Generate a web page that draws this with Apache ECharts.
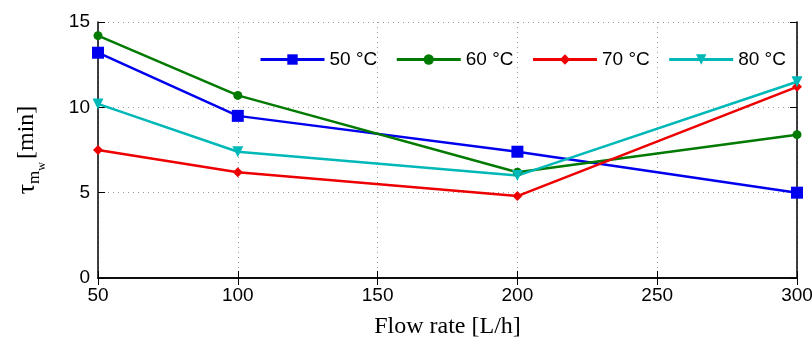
<!DOCTYPE html>
<html>
<head>
<meta charset="utf-8">
<script src="https://cdn.jsdelivr.net/npm/echarts@6/dist/echarts.min.js"></script>
<style>
  html, body { margin: 0; padding: 0; background: #fff; }
  #chart { width: 812px; height: 339px; }
</style>
</head>
<body>
<div id="chart"></div>
<script>
// flow rate [L/h]
const flowRates = [50, 100, 200, 300];
// tau_mw [min] for each temperature
const t50 = [13.2, 9.5, 7.4, 5.0];
const t60 = [14.2, 10.7, 6.2, 8.4];
const t70 = [7.5, 6.2, 4.8, 11.2];
const t80 = [10.2, 7.4, 6.0, 11.5];
const seriesNames = ['50 °C', '60 °C', '70 °C', '80 °C'];

const pairs = vals => flowRates.map((x, i) => [x, vals[i]]);

const myChart = echarts.init(document.getElementById('chart'));

const tickFont = { fontFamily: 'Liberation Sans', fontSize: 19, color: '#000' };
const dotted = { show: true, lineStyle: { color: '#999', type: [1, 4], width: 1 } };

function line(name, data, color, symbol, size) {
  return {
    name: name,
    type: 'line',
    data: pairs(data),
    symbol: symbol,
    symbolSize: size,
    showAllSymbol: true,
    color: color,
    lineStyle: { width: 2.5, color: color },
    itemStyle: { color: color },
    animation: false
  };
}

const option = {
  animation: false,
  grid: { left: 98, right: 15, top: 22, bottom: 61, outerBoundsMode: 'none', containLabel: false },
  legend: {
    top: 45,
    left: 254,
    itemWidth: 64,
    itemHeight: 13,
    itemGap: 18,
    lineStyle: { width: 3 },
    textStyle: { fontFamily: 'Liberation Sans', fontSize: 19, color: '#000' },
    data: seriesNames
  },
  xAxis: [
    {
      type: 'value',
      min: 50, max: 300, interval: 50,
      name: 'Flow rate [L/h]',
      nameLocation: 'middle',
      nameGap: 37,
      nameTextStyle: { fontFamily: 'Liberation Serif', fontSize: 24, color: '#000' },
      axisLine: { show: true, onZero: false, lineStyle: { color: '#000', width: 1.5 } },
      axisTick: { show: true, inside: true, length: 7, lineStyle: { color: '#000' } },
      axisLabel: Object.assign({ margin: 8 }, tickFont),
      splitLine: dotted
    },
    {
      type: 'value', position: 'top',
      min: 50, max: 300, interval: 50,
      axisLine: { show: true, lineStyle: { color: '#000', width: 1.5 } },
      axisTick: { show: true, inside: true, length: 7, lineStyle: { color: '#000' } },
      axisLabel: { show: false },
      splitLine: { show: false }
    }
  ],
  yAxis: [
    {
      type: 'value',
      min: 0, max: 15, interval: 5,
      name: '{t|τ}{m|m}{w|w}{s| }{b|[min]}',
      nameLocation: 'middle',
      nameRotate: 90,
      nameGap: 50,
      nameTextStyle: {
        fontFamily: 'Liberation Serif', fontSize: 22, color: '#000',
        rich: {
          t: { fontFamily: 'Liberation Serif', fontSize: 26, color: '#000' },
          m: { fontFamily: 'Liberation Serif', fontSize: 17, color: '#000', padding: [16, 0, 0, 0] },
          w: { fontFamily: 'Liberation Serif', fontSize: 12, color: '#000', padding: [30, 0, 0, 0] },
          s: { fontSize: 12 },
          b: { fontFamily: 'Liberation Serif', fontSize: 24, color: '#000' }
        }
      },
      axisLine: { show: true, onZero: false, lineStyle: { color: '#000', width: 1.5 } },
      axisTick: { show: true, inside: true, length: 7, lineStyle: { color: '#000' } },
      axisLabel: Object.assign({ margin: 8 }, tickFont),
      splitLine: dotted
    },
    {
      type: 'value', position: 'right',
      min: 0, max: 15, interval: 5,
      axisLine: { show: true, lineStyle: { color: '#000', width: 1.5 } },
      axisTick: { show: true, inside: true, length: 7, lineStyle: { color: '#000' } },
      axisLabel: { show: false },
      splitLine: { show: false }
    }
  ],
  series: [
    line(seriesNames[0], t50, '#0000ee', 'rect', 12),
    line(seriesNames[1], t60, '#007a00', 'circle', 9),
    line(seriesNames[2], t70, '#ee0000', 'diamond', 10),
    line(seriesNames[3], t80, '#00b8b8', 'triangle', 11)
  ]
};
// 80 °C uses downward triangles
option.series[3].symbolRotate = 180;

myChart.setOption(option, true);
</script>
</body>
</html>
